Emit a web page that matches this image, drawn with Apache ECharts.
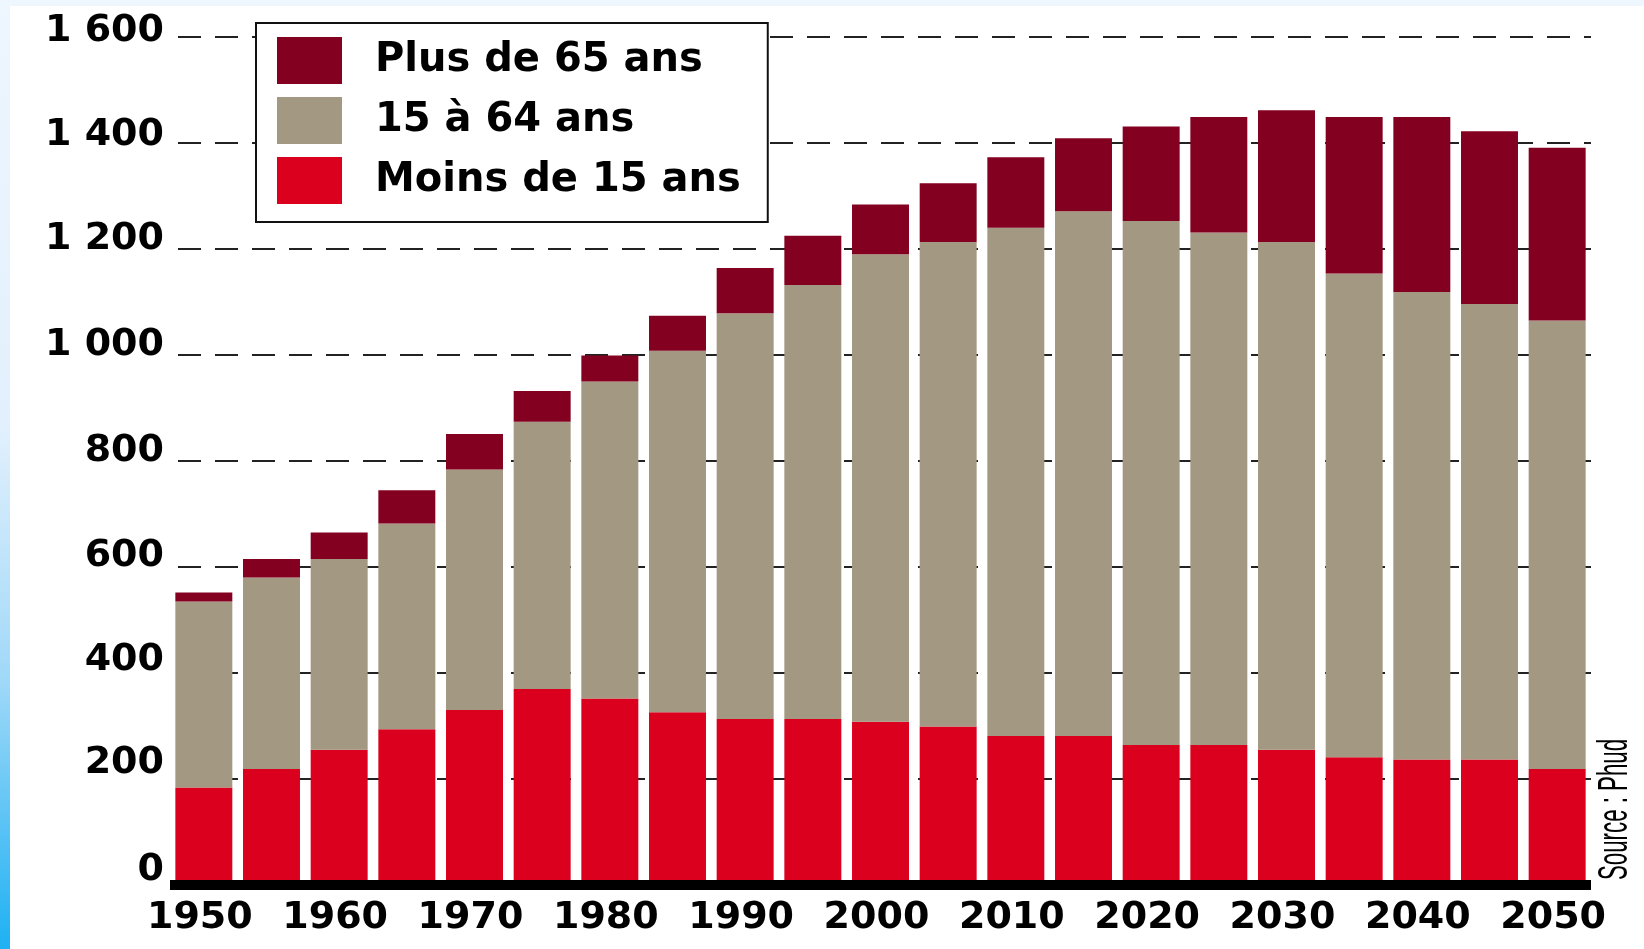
<!DOCTYPE html>
<html>
<head>
<meta charset="utf-8">
<script src="https://cdn.jsdelivr.net/npm/echarts@6/dist/echarts.min.js"></script>
<style>
  html, body { margin: 0; padding: 0; width: 1644px; height: 949px; overflow: hidden; background: #eef6fe; }
  #panel { position: absolute; left: 10px; top: 6px; width: 1634px; height: 943px; background: #fff; }
  #strip { position: absolute; left: 0; top: 0; width: 10px; height: 949px;
           background: linear-gradient(to bottom, #eef6fe 0%, #e2f0fd 45%, #9fd8f8 72%, #1eb1f3 100%); }
  #main { position: absolute; left: 0; top: 0; width: 1644px; height: 949px; }
</style>
</head>
<body>
<div id="panel"></div>
<div id="strip"></div>
<div id="main"></div>
<script>
var years = ['1950', '1955', '1960', '1965', '1970', '1975', '1980', '1985', '1990', '1995', '2000',
             '2005', '2010', '2015', '2020', '2025', '2030', '2035', '2040', '2045', '2050'];
var moins15 = [184, 219, 255, 294, 330, 370, 352, 326, 313, 313, 308, 299, 281, 281, 264, 264, 255, 241, 237, 237, 219];
var de15a64 = [351, 361, 360, 388, 454, 504, 598, 682, 766, 819, 882, 914, 959, 990, 989, 967, 958, 913, 882, 859, 846];
var plus65 = [17, 35, 50, 63, 67, 58, 49, 66, 85, 93, 94, 111, 133, 138, 178, 218, 249, 295, 330, 326, 326];
var yLabels = ['0', '200', '400', '600', '800', '1 000', '1 200', '1 400', '1 600'];

var font = 'DejaVu Sans';
// the printed labels sit a little above their gridlines, more so near the bottom
var lift = [15, 16, 13, 11, 10, 10, 10, 8, 6];
var yRich = {};
lift.forEach(function (s, i) {
    yRich['s' + i] = {
        fontFamily: font, fontWeight: 'bold', fontSize: 38, color: '#000',
        padding: [0, 0, 2 * s, 0]
    };
});

var chart = echarts.init(document.getElementById('main'));

chart.setOption({
    animation: false,
    grid: { left: 170, right: 53, top: 37, bottom: 64 },
    legend: {
        orient: 'vertical',
        left: 256,
        top: 23,
        data: ['Plus de 65 ans', '15 à 64 ans', 'Moins de 15 ans'],
        icon: 'rect',
        itemWidth: 65,
        itemHeight: 47,
        itemGap: 13,
        padding: [14, 27, 18, 21],
        backgroundColor: '#fff',
        borderColor: '#111',
        borderWidth: 2,
        selectedMode: false,
        textStyle: {
            fontFamily: font,
            fontWeight: 'bold',
            fontSize: 40,
            color: '#000',
            padding: [0, 0, 0, 28]
        }
    },
    xAxis: {
        type: 'category',
        data: years,
        z: 3,
        axisLine: { lineStyle: { color: '#000', width: 10, cap: 'butt' } },
        axisTick: { show: false },
        axisLabel: {
            interval: 1,
            margin: 14,
            padding: [0, 8, 0, 0],
            fontFamily: font,
            fontWeight: 'bold',
            fontSize: 38,
            color: '#000'
        }
    },
    yAxis: {
        type: 'value',
        min: 0,
        max: 1600,
        interval: 200,
        axisLine: { show: false },
        axisTick: { show: false },
        axisLabel: {
            margin: 6,
            fontFamily: font,
            fontWeight: 'bold',
            fontSize: 38,
            color: '#000',
            rich: yRich,
            formatter: function (v) {
                var i = Math.round(v / 200);
                return '{s' + i + '|' + yLabels[i] + '}';
            }
        },
        splitLine: {
            lineStyle: { color: '#222', width: 2, type: [23, 14], dashOffset: 29 }
        }
    },
    series: [
        { name: 'Moins de 15 ans', type: 'bar', stack: 'pop', data: moins15,
          barCategoryGap: '15.8%', itemStyle: { color: '#da001e' } },
        { name: '15 à 64 ans', type: 'bar', stack: 'pop', data: de15a64,
          itemStyle: { color: '#a39882' } },
        { name: 'Plus de 65 ans', type: 'bar', stack: 'pop', data: plus65,
          itemStyle: { color: '#840020' } }
    ],
    graphic: [{
        type: 'text',
        x: 1636,
        y: 880,
        rotation: Math.PI / 2,
        scaleX: 0.53,
        style: {
            text: 'Source : Phud',
            fontFamily: 'Liberation Sans',
            fontSize: 42,
            fill: '#000',
            textAlign: 'left',
            textVerticalAlign: 'bottom'
        }
    }]
});
</script>
</body>
</html>
